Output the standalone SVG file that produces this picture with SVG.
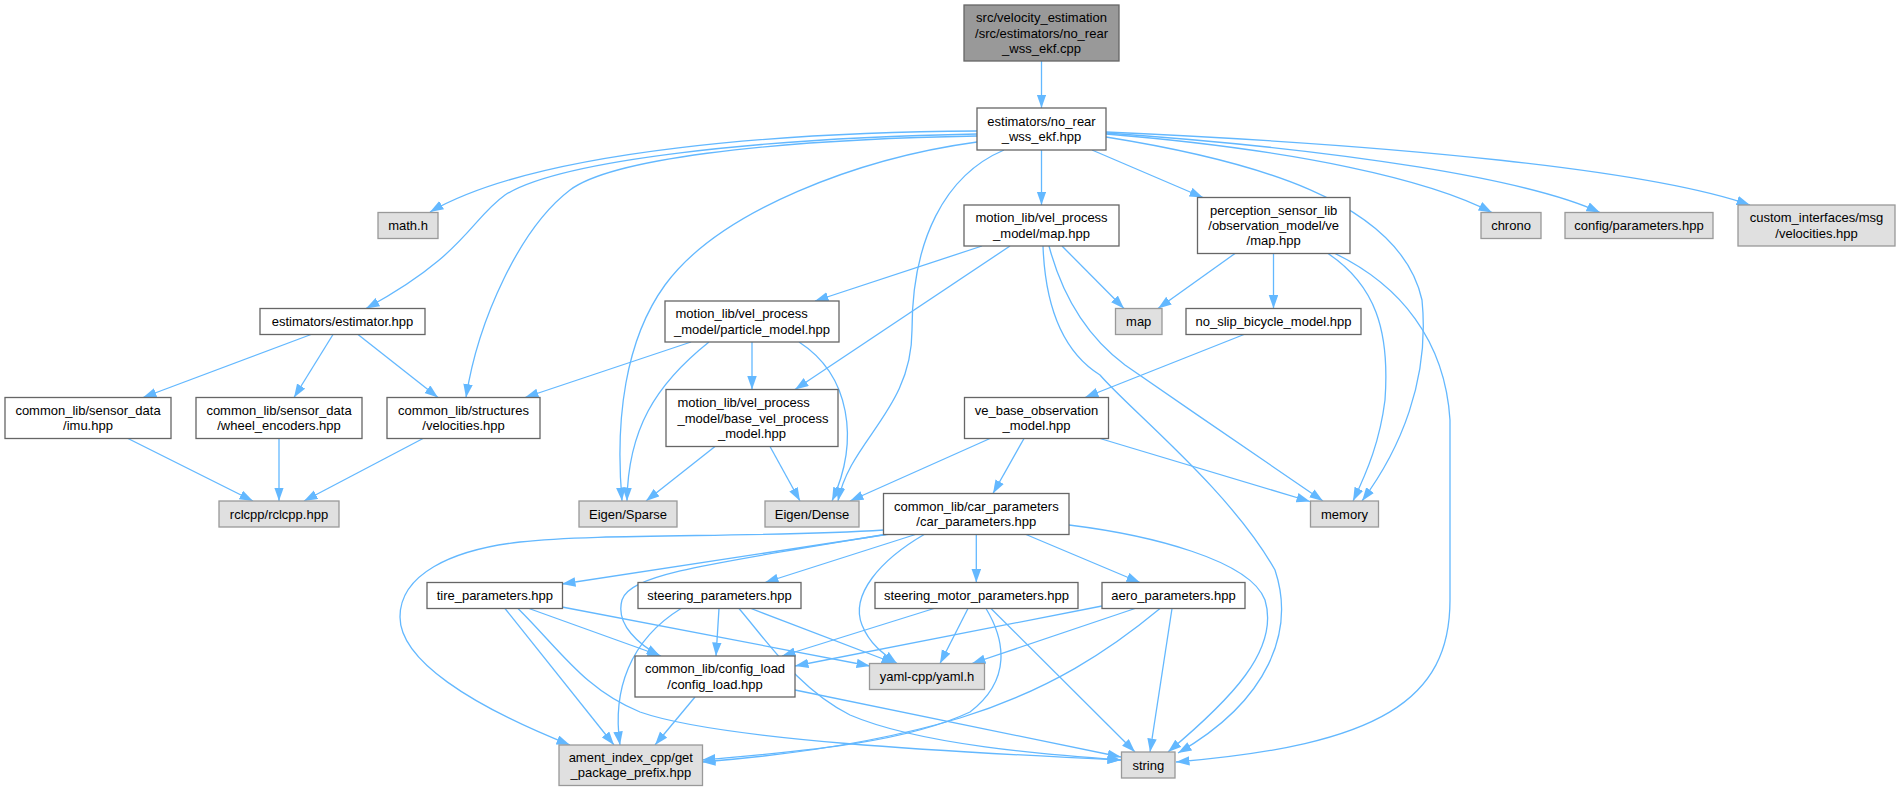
<svg xmlns="http://www.w3.org/2000/svg" width="1901" height="791" viewBox="0 0 1901 791">
<style>
rect{stroke-width:1.3}
.n rect{fill:#ffffff;stroke:#666666}
.g rect{fill:#e0e0e0;stroke:#999999}
.r rect{fill:#999999;stroke:#666666}
text{font-family:"Liberation Sans",Arial,Helvetica,sans-serif;font-size:13px;fill:#000000;text-anchor:middle}
text.l{text-anchor:start}
#edges path{fill:none;stroke:#63b8ff;stroke-width:1.3;marker-end:url(#a)}
</style>
<defs>
<marker id="a" markerUnits="userSpaceOnUse" markerWidth="14" markerHeight="10" viewBox="0 0 14 10" refX="13.5" refY="4.75" orient="auto">
<path d="M0,0 L13.5,4.75 L0,9.5 z" fill="#63b8ff"/>
</marker>
</defs>
<rect width="1901" height="791" fill="#ffffff"/>
<g id="edges">
<path d="M1041.5,61 L1041.5,108"/>
<path d="M977,131 C800,132 540,148 430,212"/>
<path d="M977,134 C760,138 560,160 505,195 C470,220 465,255 366,308.5"/>
<path d="M977,136 C760,140 610,160 570,190 C520,228 478,320 466,397.5"/>
<path d="M977,142 C860,158 720,210 665,285 C625,340 615,420 622,501"/>
<path d="M1004,150 C945,175 912,240 912,330 C912,410 850,440 838,501"/>
<path d="M1041.5,150 L1041.5,205"/>
<path d="M1092,150 L1203,197.5"/>
<path d="M1106,137 C1250,160 1400,200 1422,300 C1430,380 1400,450 1362,501"/>
<path d="M1106,134 C1300,150 1430,180 1492,212.5"/>
<path d="M1106,133 C1350,150 1530,180 1600,212.5"/>
<path d="M1106,132 C1400,145 1650,170 1750,205"/>
<path d="M982,246 L815,301"/>
<path d="M1010,246 L795,389.5"/>
<path d="M1062,246 L1124,308.5"/>
<path d="M1049,246 C1062,295 1085,335 1125,365 C1190,410 1270,465 1323,501"/>
<path d="M1043,246 C1045,300 1060,350 1100,375 C1130,410 1230,490 1275,570 C1295,630 1270,700 1178,753"/>
<path d="M691,342 L525,397.5"/>
<path d="M752,342 L752,389.5"/>
<path d="M709,342 C655,385 628,430 627,501"/>
<path d="M799,342 C850,375 860,440 832,501"/>
<path d="M715,446.5 L646,501"/>
<path d="M770,446.5 L800,501"/>
<path d="M311,334.5 L143,397.5"/>
<path d="M333,334.5 L294,397.5"/>
<path d="M358,334.5 L438,397.5"/>
<path d="M128,438.5 L253,501"/>
<path d="M279,438.5 L279,501"/>
<path d="M423,438.5 L304,501"/>
<path d="M1235,253.5 L1158,308.5"/>
<path d="M1273.5,253.5 L1273.5,308.5"/>
<path d="M1328,253.5 C1375,285 1390,330 1385,400 C1380,440 1368,470 1353,501"/>
<path d="M1335,253.5 C1400,285 1445,340 1450,420 L1450,600 C1450,700 1380,745 1176,762"/>
<path d="M1244,334.5 L1085,397.5"/>
<path d="M990,438.5 L850,501"/>
<path d="M1024,438.5 L993,493.5"/>
<path d="M1100,438.5 L1310,501.5"/>
<path d="M884,530 C760,538 600,533 520,542 C450,550 400,575 400,617 C400,660 470,705 570,745"/>
<path d="M890,534 L562,584"/>
<path d="M888,534 C700,565 630,575 622,600 C615,625 640,645 660,656"/>
<path d="M917,534 L765,582.5"/>
<path d="M925,534 C880,560 850,595 862,625 C870,645 885,655 897,663.5"/>
<path d="M976.3,534.5 L976.3,582.5"/>
<path d="M1026,534.5 L1140,582.5"/>
<path d="M1069,525 C1150,535 1250,560 1265,600 C1280,650 1230,700 1168,752"/>
<path d="M529,608.5 L661,656"/>
<path d="M562,607 L870,666"/>
<path d="M505,608.5 L614,745"/>
<path d="M518,608.5 C560,650 585,690 640,712 C720,740 950,752 1121,760"/>
<path d="M719,608.5 L716,656"/>
<path d="M751,608.5 L895,663.5"/>
<path d="M681,608.5 C630,640 612,690 620,745"/>
<path d="M739,608.5 C770,645 800,690 850,715 C920,745 1050,755 1121,760"/>
<path d="M934,608.5 L782,656"/>
<path d="M968,608.5 L940,663.5"/>
<path d="M986,608.5 C1005,640 1012,680 970,712 C900,745 790,752 702,760"/>
<path d="M991,608.5 L1135,752"/>
<path d="M1102,606 L795,666"/>
<path d="M1135,608.5 L972,663.5"/>
<path d="M1160,608.5 C1110,650 1050,690 960,718 C880,742 790,755 702,762"/>
<path d="M1172,608.5 L1150,752"/>
<path d="M695,697 L655,745"/>
<path d="M795,690 L1121,757"/>
</g>
<g id="node_root" class="r"><rect x="964" y="5" width="155" height="56"/><text x="1041.5" y="22.2">src/velocity_estimation</text><text x="1041.5" y="37.5">/src/estimators/no_rear</text><text x="1041.5" y="52.8">_wss_ekf.cpp</text></g>
<g id="node_no_rear" class="n"><rect x="977" y="108" width="129" height="42"/><text x="1041.5" y="125.85">estimators/no_rear</text><text x="1041.5" y="141.15">_wss_ekf.hpp</text></g>
<g id="node_math" class="g"><rect x="378" y="212.5" width="60" height="26"/><text x="408" y="230">math.h</text></g>
<g id="node_motion_map" class="n"><rect x="964" y="205" width="155" height="41"/><text x="1041.5" y="222.35">motion_lib/vel_process</text><text x="1041.5" y="237.65">_model/map.hpp</text></g>
<g id="node_perception" class="n"><rect x="1197.5" y="197.5" width="152.5" height="56"/><text x="1273.7" y="214.7">perception_sensor_lib</text><text x="1273.7" y="230">/observation_model/ve</text><text x="1273.7" y="245.3">/map.hpp</text></g>
<g id="node_chrono" class="g"><rect x="1481" y="212.5" width="60" height="26"/><text x="1511" y="230">chrono</text></g>
<g id="node_config_params" class="g"><rect x="1565" y="212.5" width="148" height="26"/><text x="1639" y="230">config/parameters.hpp</text></g>
<g id="node_custom" class="g"><rect x="1738" y="205" width="157" height="41"/><text x="1816.5" y="222.35">custom_interfaces/msg</text><text x="1816.5" y="237.65">/velocities.hpp</text></g>
<g id="node_map" class="g"><rect x="1115.5" y="308.5" width="46.5" height="26"/><text x="1138.7" y="326">map</text></g>
<g id="node_no_slip" class="n"><rect x="1186" y="308.5" width="175" height="26"/><text x="1273.5" y="326">no_slip_bicycle_model.hpp</text></g>
<g id="node_estimator" class="n"><rect x="260" y="308.5" width="165" height="26"/><text x="342.5" y="326">estimators/estimator.hpp</text></g>
<g id="node_particle" class="n"><rect x="665" y="301" width="174" height="41"/><text class="l" x="675.5" y="318.35">motion_lib/vel_process</text><text x="752" y="333.65">_model/particle_model.hpp</text></g>
<g id="node_imu" class="n"><rect x="5" y="397.5" width="166" height="41"/><text x="88" y="414.85">common_lib/sensor_data</text><text x="88" y="430.15">/imu.hpp</text></g>
<g id="node_wheel" class="n"><rect x="196" y="397.5" width="166" height="41"/><text x="279" y="414.85">common_lib/sensor_data</text><text x="279" y="430.15">/wheel_encoders.hpp</text></g>
<g id="node_velocities" class="n"><rect x="387" y="397.5" width="153" height="41"/><text x="463.5" y="414.85">common_lib/structures</text><text x="463.5" y="430.15">/velocities.hpp</text></g>
<g id="node_base_vel" class="n"><rect x="666" y="389.5" width="172" height="57"/><text class="l" x="677.5" y="407.2">motion_lib/vel_process</text><text class="l" x="677.5" y="422.5">_model/base_vel_process</text><text x="752" y="437.8">_model.hpp</text></g>
<g id="node_ve_base" class="n"><rect x="964.5" y="397.5" width="144" height="41"/><text x="1036.5" y="414.85">ve_base_observation</text><text x="1036.5" y="430.15">_model.hpp</text></g>
<g id="node_rclcpp" class="g"><rect x="219" y="501" width="120" height="26"/><text x="279" y="518.5">rclcpp/rclcpp.hpp</text></g>
<g id="node_sparse" class="g"><rect x="579" y="501" width="98" height="26"/><text x="628" y="518.5">Eigen/Sparse</text></g>
<g id="node_dense" class="g"><rect x="765" y="501" width="94" height="26"/><text x="812" y="518.5">Eigen/Dense</text></g>
<g id="node_memory" class="g"><rect x="1310.5" y="501" width="68" height="26"/><text x="1344.5" y="518.5">memory</text></g>
<g id="node_car_params" class="n"><rect x="883.5" y="493.5" width="185.5" height="41"/><text x="976.3" y="510.85">common_lib/car_parameters</text><text x="976.3" y="526.15">/car_parameters.hpp</text></g>
<g id="node_tire" class="n"><rect x="427" y="582.5" width="135.5" height="26"/><text x="494.8" y="600">tire_parameters.hpp</text></g>
<g id="node_steering" class="n"><rect x="638" y="582.5" width="163" height="26"/><text x="719.5" y="600">steering_parameters.hpp</text></g>
<g id="node_steering_motor" class="n"><rect x="875" y="582.5" width="203" height="26"/><text x="976.5" y="600">steering_motor_parameters.hpp</text></g>
<g id="node_aero" class="n"><rect x="1102" y="582.5" width="143" height="26"/><text x="1173.5" y="600">aero_parameters.hpp</text></g>
<g id="node_config_load" class="n"><rect x="635" y="656" width="160" height="41"/><text x="715" y="673.35">common_lib/config_load</text><text x="715" y="688.65">/config_load.hpp</text></g>
<g id="node_yaml" class="g"><rect x="869.5" y="663.5" width="115" height="26"/><text x="927" y="681">yaml-cpp/yaml.h</text></g>
<g id="node_ament" class="g"><rect x="559" y="745" width="143.5" height="40.5"/><text x="630.8" y="761.85">ament_index_cpp/get</text><text x="630.8" y="777.15">_package_prefix.hpp</text></g>
<g id="node_string" class="g"><rect x="1121.5" y="752" width="53.5" height="26"/><text x="1148.3" y="769.5">string</text></g>
</svg>
